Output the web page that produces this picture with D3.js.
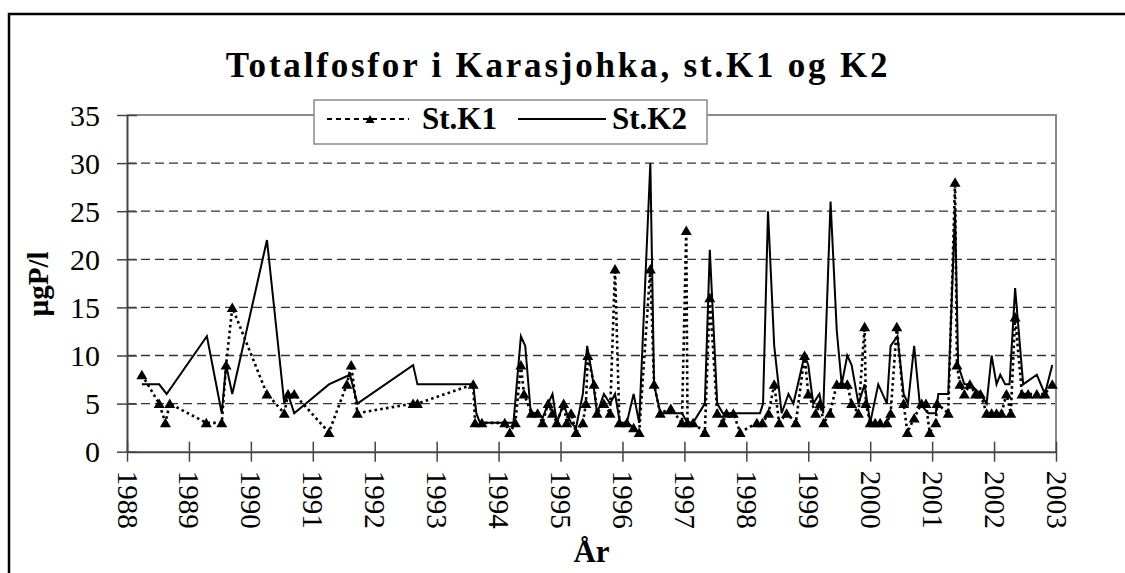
<!DOCTYPE html>
<html>
<head>
<meta charset="utf-8">
<script src="https://cdn.jsdelivr.net/npm/d3@7"></script>
<style>
  html, body { margin: 0; padding: 0; background: #fff; }
  svg { display: block; font-family: "Liberation Serif", "Times New Roman", serif; }
</style>
</head>
<body>
<svg id="chart" width="1125" height="573"></svg>
<script>
// ---- data ----
const k1Years = [1988.24,1988.52,1988.62,1988.69,1989.28,1989.53,1989.60,1989.70,1990.26,1990.54,1990.60,1990.70,1991.26,1991.55,1991.62,1991.72,1992.62,1992.69,1993.59,1993.62,1993.73,
  1994.10,1994.18,1994.27,1994.36,1994.41,1994.53,1994.63,1994.71,1994.80,1994.87,1994.94,1995.05,1995.10,1995.17,1995.25,1995.36,1995.41,1995.44,1995.54,1995.59,1995.70,1995.80,1995.88,1995.95,
  1996.07,1996.18,1996.27,1996.45,1996.51,1996.61,1996.78,1996.96,1997.03,1997.05,1997.14,1997.33,1997.41,1997.53,1997.62,1997.68,1997.79,1997.90,
  1998.17,1998.26,1998.36,1998.45,1998.53,1998.65,1998.80,1998.94,1999.00,1999.12,1999.19,1999.25,1999.35,1999.46,1999.54,1999.63,1999.70,1999.81,1999.91,1999.93,
  2000.00,2000.08,2000.16,2000.27,2000.33,2000.43,2000.54,2000.60,2000.71,2000.83,2000.90,2000.96,2001.06,2001.08,2001.26,2001.37,2001.40,2001.45,2001.52,2001.61,2001.70,2001.78,2001.88,2001.96,
  2002.04,2002.12,2002.20,2002.27,2002.34,2002.45,2002.55,2002.69,2002.82,2002.94];
const k1Values = [8,5,3,5,3,3,9,15,6,4,6,6,2,7,9,4,5,5,7,3,3,
  3,2,3,9,6,4,4,3,5,4,3,5,3,4,2,3,5,10,7,4,5,4,19,3,
  3,2.5,2,19,7,4,4.5,3,23,3,3,2,16,4,3,4,4,2,
  3,3,4,7,3,4,3,10,6,4,5,3,4,7,7,7,5,4,13,5,
  3,3,3,3,4,13,5,2,3.5,5,5,2,3,5,4,28,9,7,6,7,6,6,4,4,
  4,4,6,4,14,6,6,6,6,7];

const k2Years = [1988.24,1988.52,1988.64,1989.29,1989.53,1989.60,1989.70,1990.26,1990.54,1990.60,1990.70,1991.26,1991.60,1991.72,1992.62,1992.69,1993.59,1993.64,1993.70,
  1994.13,1994.24,1994.36,1994.43,1994.52,1994.63,1994.71,1994.80,1994.87,1994.94,1995.05,1995.10,1995.17,1995.25,1995.36,1995.43,1995.51,1995.59,1995.70,1995.80,1995.88,1995.96,
  1996.07,1996.18,1996.27,1996.45,1996.51,1996.61,1996.78,1996.96,1997.05,1997.14,1997.33,1997.41,1997.53,1997.62,1997.90,
  1998.22,1998.27,1998.35,1998.45,1998.57,1998.68,1998.76,1998.94,1999.00,1999.08,1999.18,1999.24,1999.36,1999.46,1999.54,1999.63,1999.70,1999.81,1999.91,
  2000.00,2000.13,2000.27,2000.33,2000.44,2000.54,2000.61,2000.71,2000.80,2000.94,2001.06,2001.10,2001.26,2001.37,2001.42,2001.52,2001.61,2001.78,2001.88,2001.96,
  2002.04,2002.10,2002.18,2002.25,2002.34,2002.47,2002.69,2002.82,2002.94];
const k2Values = [7,7,6,12,4,9,6,22,5,6,4,7,8,5,9,7,7,4,3,
  3,3,12,11,4,4,3.5,5,6,3,5,4,3,2.5,6,11,8,4,6,5,6,3,
  3,6,3,30,7,4,4,4,3,3,5,21,5,4,4,
  4,5,25,11,4,6,5,10,9,5,6,4,26,12.6,7,10,9,5,7,
  3,7,5,11,12,6,5,11,5,4,4,6,6,25,9,7,7,6,5,10,
  7,8,7,7,17,7,8,6,9];

const yTicks = [0,5,10,15,20,25,30,35];
const xTicks = [1988,1989,1990,1991,1992,1993,1994,1995,1996,1997,1998,1999,2000,2001,2002,2003];
const seriesNames = ["St.K1","St.K2"];
const titleText = "Totalfosfor i Karasjohka, st.K1 og K2";
const yTitle = "µgP/l";
const xTitle = "År";

// ---- drawing ----
const svg = d3.select("#chart");
const L = 127, R = 1056, T = 115, B = 451.7;
const x = d3.scaleLinear().domain([1988, 2003]).range([L, R]);
const y = d3.scaleLinear().domain([0, 35]).range([B, T]);

// outer chart border
svg.append("rect").attr("x", 9).attr("y", 14).attr("width", 1300).attr("height", 800)
  .attr("fill", "#fff").attr("stroke", "#000").attr("stroke-width", 2.5);

// gridlines
svg.append("g").selectAll("line").data(yTicks.filter(d => d > 0 && d < 35)).join("line")
  .attr("x1", L).attr("x2", R).attr("y1", d => y(d)).attr("y2", d => y(d))
  .attr("stroke", "#333").attr("stroke-width", 1.3).attr("stroke-dasharray", "9,5");

// plot border top/right
svg.append("path").attr("d", `M${L},${T}H${R}V${B}`).attr("fill", "none")
  .attr("stroke", "#8a8a8a").attr("stroke-width", 2);

// y axis
const gy = svg.append("g").attr("transform", `translate(${L},0)`)
  .call(d3.axisLeft(y).tickValues(yTicks).tickSizeInner(10).tickSizeOuter(0).tickPadding(17));
gy.select(".domain").attr("stroke", "#444").attr("stroke-width", 2);
gy.selectAll(".tick line").attr("x1", 10).attr("x2", -10).attr("stroke", "#444").attr("stroke-width", 1.5);
gy.selectAll(".tick text").attr("font-family", "Liberation Serif, Times New Roman, serif")
  .attr("font-size", 30).attr("fill", "#000").attr("x", -27).attr("dy", "0.34em");

// x axis
const gx = svg.append("g").attr("transform", `translate(0,${B})`)
  .call(d3.axisBottom(x).tickValues(xTicks).tickFormat(d3.format("d")).tickSizeInner(10).tickSizeOuter(0));
gx.select(".domain").attr("stroke", "#444").attr("stroke-width", 2);
gx.selectAll(".tick line").attr("y1", -10).attr("y2", 10).attr("stroke", "#444").attr("stroke-width", 1.5);
gx.selectAll(".tick text").attr("font-family", "Liberation Serif, Times New Roman, serif")
  .attr("font-size", 29).attr("fill", "#000")
  .attr("y", 0).attr("dy", null)
  .attr("text-anchor", "start").attr("dominant-baseline", "central")
  .attr("transform", "translate(0,19) rotate(90)");

// series lines
const k2 = k2Years.map((d, i) => [d, k2Values[i]]);
const k1 = k1Years.map((d, i) => [d, k1Values[i]]);
const line = d3.line().x(d => x(d[0])).y(d => y(d[1]));

svg.append("path").datum(k2).attr("d", line).attr("fill", "none")
  .attr("stroke", "#000").attr("stroke-width", 2).attr("stroke-linejoin", "miter");
svg.append("path").datum(k1).attr("d", line).attr("fill", "none")
  .attr("stroke", "#000").attr("stroke-width", 2.6).attr("stroke-dasharray", "2.6,3.2");

const tri = "M0,-5L5.5,4.5L-5.5,4.5Z";
svg.append("g").selectAll("path").data(k1).join("path")
  .attr("d", tri).attr("transform", d => `translate(${x(d[0])},${y(d[1])})`).attr("fill", "#000");

// title
svg.append("text").attr("x", 558).attr("y", 77).attr("text-anchor", "middle")
  .attr("font-size", 35).attr("font-weight", "bold").attr("letter-spacing", 2.8)
  .text(titleText);

// legend
const lg = svg.append("g");
lg.append("rect").attr("x", 314).attr("y", 100).attr("width", 393).attr("height", 44)
  .attr("fill", "#fff").attr("stroke", "#8a8a8a").attr("stroke-width", 1.5);
lg.append("line").attr("x1", 327).attr("x2", 409).attr("y1", 119).attr("y2", 119)
  .attr("stroke", "#000").attr("stroke-width", 2).attr("stroke-dasharray", "5,4");
lg.append("path").attr("d", "M0,-4L4.5,4L-4.5,4Z").attr("transform", "translate(370,119)").attr("fill", "#000");
lg.append("text").attr("x", 422).attr("y", 129).attr("font-size", 31).attr("font-weight", "bold").text(seriesNames[0]);
lg.append("line").attr("x1", 518).attr("x2", 606).attr("y1", 119).attr("y2", 119)
  .attr("stroke", "#000").attr("stroke-width", 2);
lg.append("text").attr("x", 612).attr("y", 129).attr("font-size", 31).attr("font-weight", "bold").text(seriesNames[1]);

// axis titles
svg.append("text").attr("transform", "translate(48,284) rotate(-90)").attr("text-anchor", "middle")
  .attr("font-size", 29).attr("font-weight", "bold").text(yTitle);
svg.append("text").attr("x", (L + R) / 2).attr("y", 562).attr("text-anchor", "middle")
  .attr("font-size", 31).attr("font-weight", "bold").text(xTitle);
</script>
</body>
</html>
